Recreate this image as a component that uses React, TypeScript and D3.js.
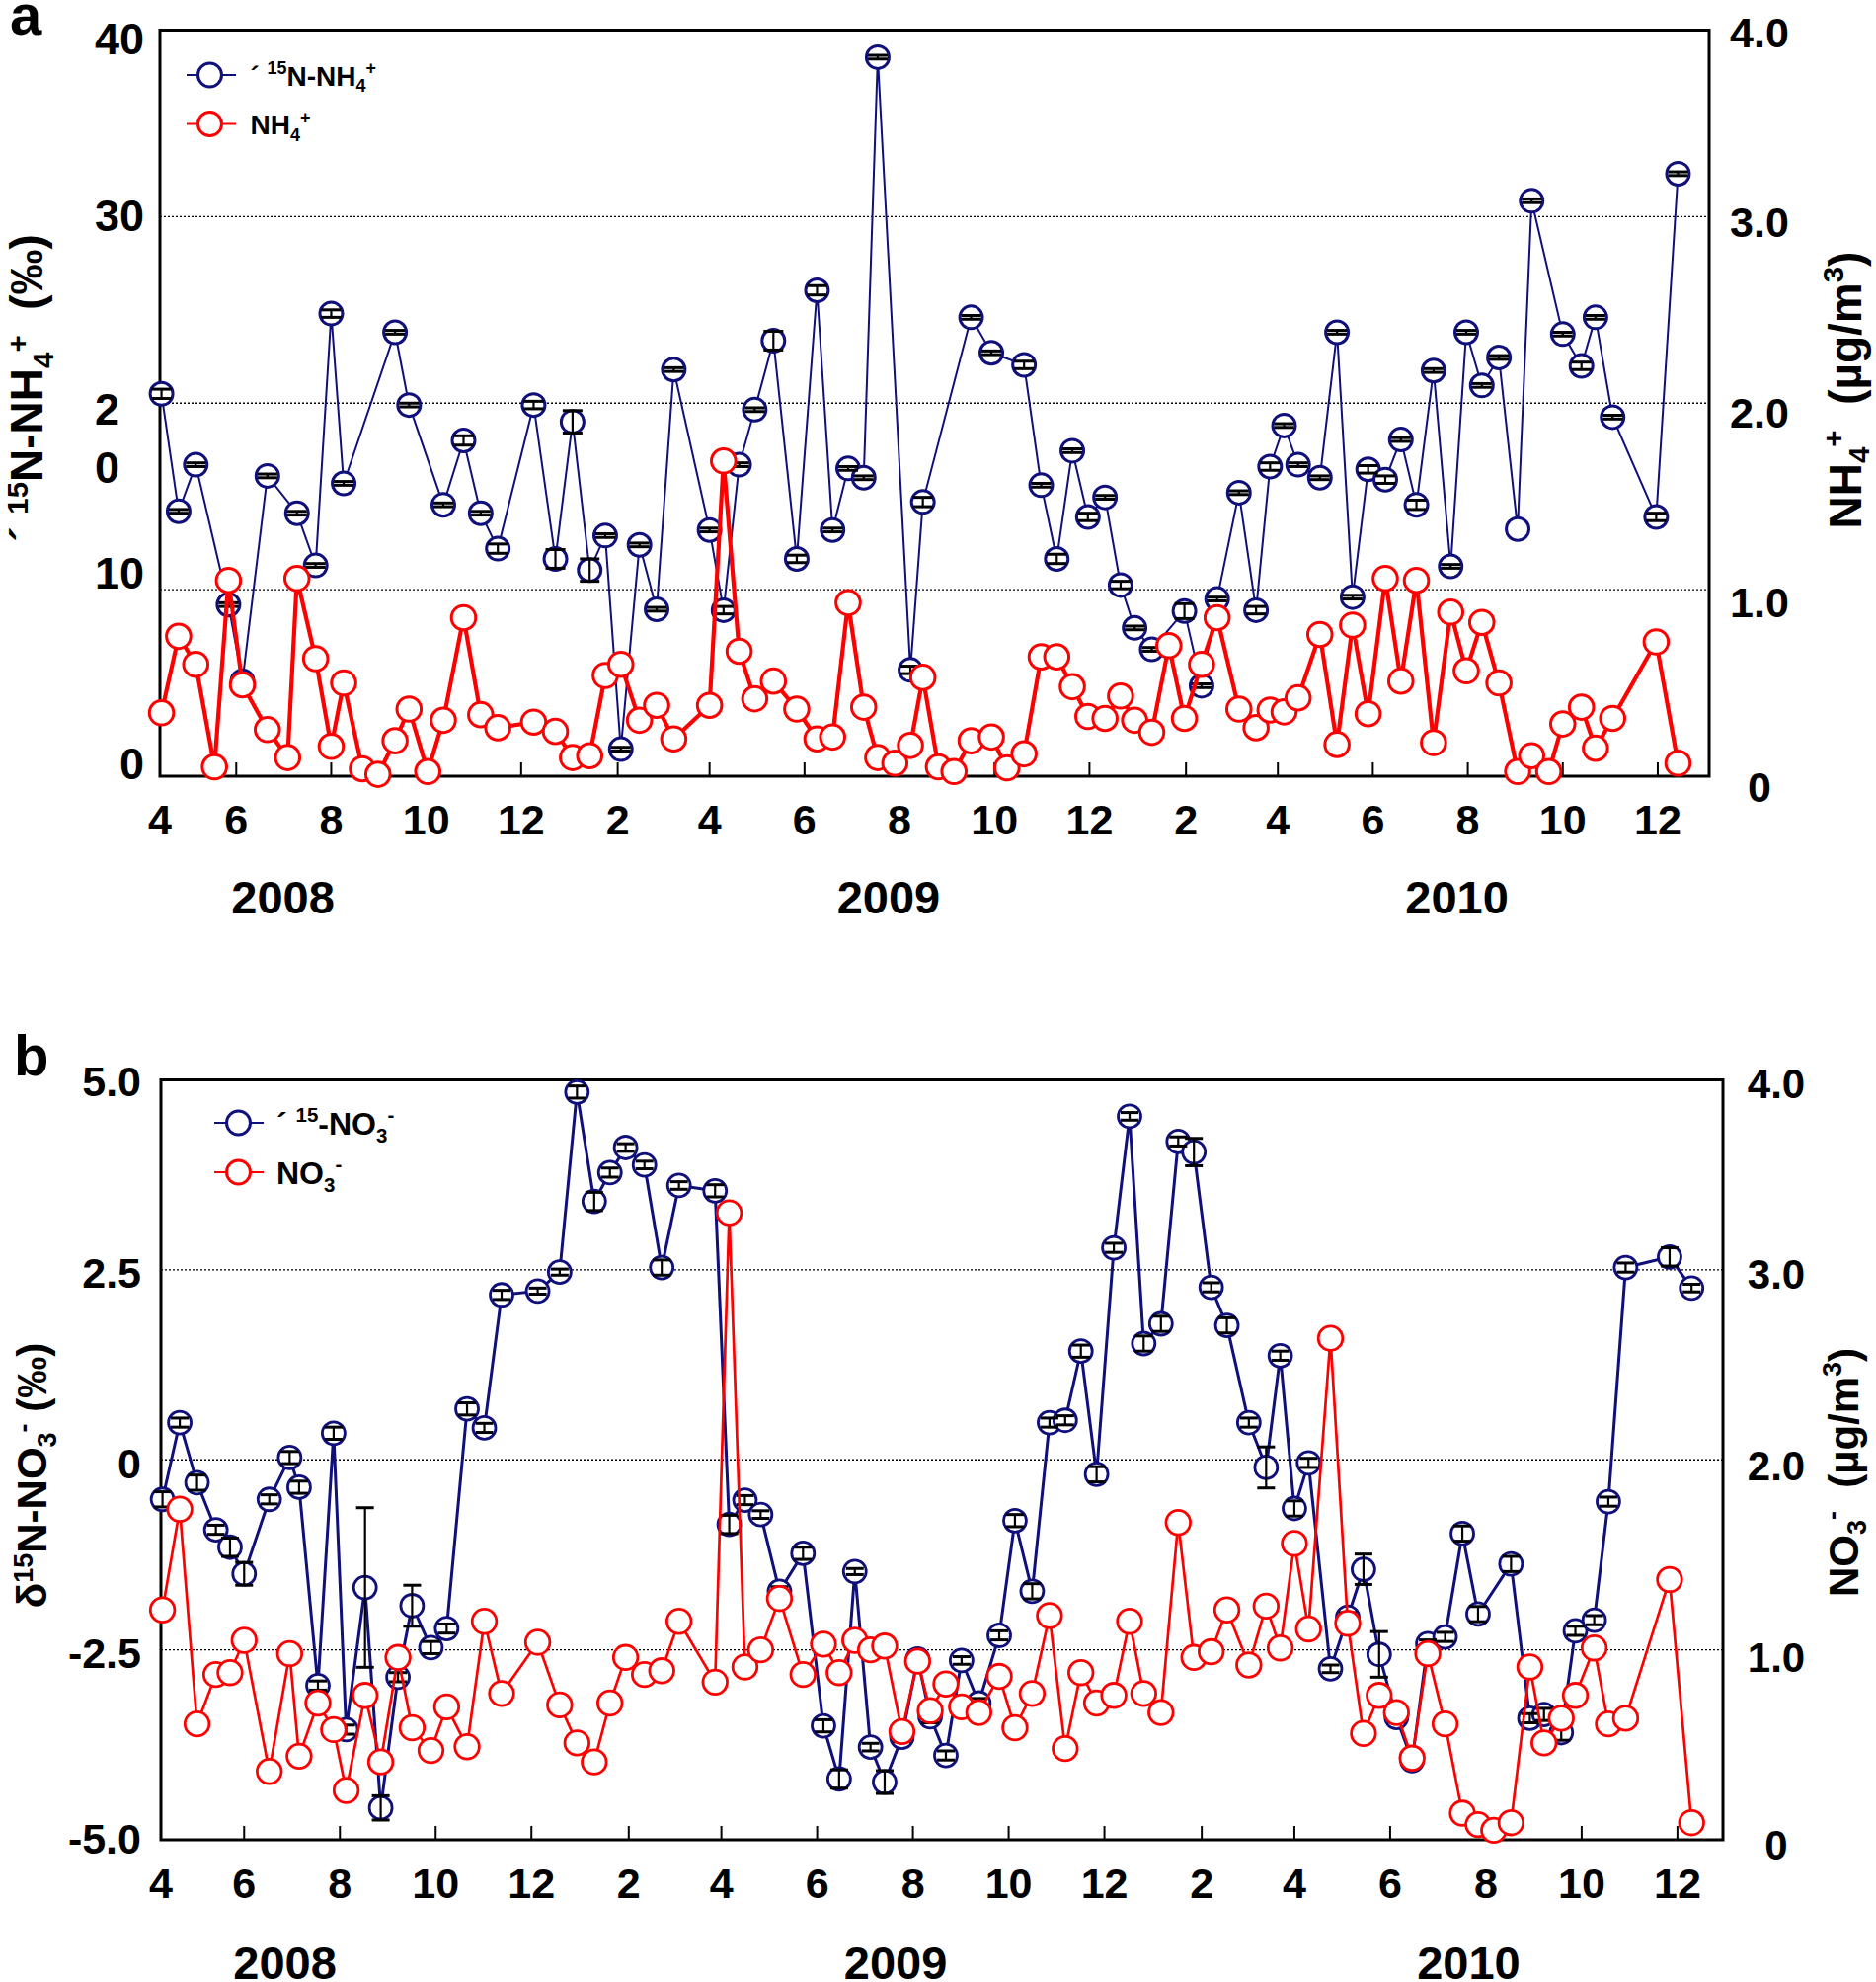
import React from "react";
import * as d3 from "d3";

// ---------------- DATA ----------------
// Sampling dates, shared by both panels
const sampleDates = [
  "2008-04-14","2008-04-25","2008-05-06","2008-05-18","2008-05-27","2008-06-05","2008-06-21","2008-07-04","2008-07-10","2008-07-22",
  "2008-08-01","2008-08-09","2008-08-21","2008-08-31","2008-09-11","2008-09-20","2008-10-02","2008-10-12","2008-10-25","2008-11-05",
  "2008-11-16","2008-12-09","2008-12-23","2009-01-03","2009-01-14","2009-01-24","2009-02-03","2009-02-15","2009-02-26","2009-03-09",
  "2009-04-01","2009-04-10","2009-04-20","2009-04-30","2009-05-12","2009-05-27","2009-06-09","2009-06-19","2009-06-29","2009-07-09",
  "2009-07-18","2009-07-29","2009-08-08","2009-08-16","2009-08-26","2009-09-05","2009-09-16","2009-09-29","2009-10-09","2009-10-20",
  "2009-10-31","2009-11-10","2009-11-20","2009-11-30","2009-12-11","2009-12-21","2009-12-30","2010-01-10","2010-01-21","2010-01-31",
  "2010-02-11","2010-02-21","2010-03-07","2010-03-18","2010-03-27","2010-04-05","2010-04-14","2010-04-28","2010-05-09","2010-05-19",
  "2010-05-29","2010-06-09","2010-06-19","2010-06-29","2010-07-10","2010-07-21","2010-07-31","2010-08-10","2010-08-21","2010-09-02",
  "2010-09-11","2010-09-22","2010-10-01","2010-10-13","2010-10-22","2010-11-02","2010-11-30","2010-12-14",
];

// Panel a: δ15N-NH4+ (‰), its error, and NH4+ (µg/m3)
const d15N_NH4: (number | null)[] = [
  20.5,14.2,16.7,null,9.2,5.1,16.1,null,14.1,11.3,
  24.8,15.7,null,null,23.8,19.9,null,14.55,18.0,14.1,
  12.2,19.9,11.65,19.0,11.05,12.9,1.45,12.4,8.95,21.8,
  13.2,8.9,16.7,19.65,23.35,11.65,26.05,13.2,16.5,16.0,
  38.55,null,5.7,14.7,null,null,24.6,22.7,null,22.05,
  15.6,11.65,17.45,13.9,14.95,10.25,7.95,6.8,null,8.85,
  4.85,9.5,15.2,8.9,16.6,18.8,16.7,16.0,23.8,9.6,
  16.45,15.9,18.05,14.55,21.75,11.25,23.8,20.95,22.45,13.25,
  30.85,null,23.7,22.0,24.6,19.25,13.9,32.3,
];
const d15N_NH4_err: (number | null)[] = [
  0.25,0.1,0.1,null,0.1,0.1,0.1,null,0.1,0.1,
  0.2,0.1,null,null,0.1,0.1,null,0.1,0.25,0.1,
  0.25,0.2,0.5,0.6,0.6,0.1,0.1,0.1,0.1,0.1,
  0.1,0.2,0.1,0.1,0.5,0.2,0.25,0.1,0.1,0.1,
  0.1,null,0.2,0.25,null,null,0.1,0.1,null,0.2,
  0.1,0.25,0.1,0.2,0.1,0.2,0.1,0.1,null,0.4,
  0.1,0.1,0.1,0.2,0.2,0.1,0.1,0.1,0.1,0.1,
  0.2,0.2,0.1,0.25,0.1,0.1,0.1,0.1,0.1,null,
  0.1,null,0.1,0.2,0.1,0.1,0.2,0.1,
];
const NH4: (number | null)[] = [
  0.34,0.75,0.60,0.05,1.05,0.49,0.25,0.10,1.06,0.63,
  0.16,0.50,0.04,0.01,0.19,0.36,0.025,0.30,0.85,0.33,
  0.26,0.29,0.24,0.10,0.11,0.54,0.60,0.30,0.38,0.20,
  0.38,1.69,0.67,0.415,0.51,0.36,0.20,0.21,0.93,0.37,
  0.10,0.07,0.165,0.53,0.05,0.025,0.19,0.21,0.045,0.12,
  0.64,0.64,0.48,0.32,0.31,0.43,0.30,0.235,0.70,0.31,
  0.60,0.85,0.36,0.26,0.355,0.345,0.42,0.76,0.17,0.81,
  0.335,1.06,0.51,1.05,0.18,0.88,0.565,0.825,0.50,0.025,
  0.11,0.025,0.28,0.37,0.15,0.31,0.72,0.07,
];

// Panel b: δ15N-NO3- (‰), its error, and NO3- (µg/m3)
const d15N_NO3: (number | null)[] = [
  -0.52,0.49,-0.30,-0.92,-1.15,-1.50,-0.52,0.03,-0.36,-2.97,
  0.35,-3.55,-1.68,-4.58,-2.86,-1.92,-2.47,-2.22,0.67,0.42,
  2.17,2.22,2.47,4.84,3.40,3.78,4.11,3.88,2.53,3.61,
  3.54,-0.85,-0.53,-0.72,-1.73,-1.23,-3.50,-4.20,-1.47,-3.78,
  -4.24,-3.65,-2.62,-3.38,-3.89,-2.64,-3.20,-2.31,-0.80,-1.73,
  0.49,0.52,1.43,-0.19,2.79,4.52,1.53,1.79,4.19,4.05,
  2.27,1.77,0.49,-0.10,1.37,-0.64,-0.04,-2.75,-2.07,-1.44,
  -2.56,-3.39,-3.96,-2.42,-2.33,-0.97,-2.03,null,-1.37,-3.40,
  -3.35,-3.59,-2.25,-2.11,-0.55,2.53,2.67,2.26,
];
const d15N_NO3_err: (number | null)[] = [
  0.1,0.06,0.1,0.06,0.12,0.15,0.06,0.08,0.08,0.06,
  0.08,0.06,1.05,0.16,0.06,0.27,0.08,0.06,0.08,0.06,
  0.06,0.04,0.04,0.08,0.12,0.06,0.05,0.05,0.1,0.05,
  0.08,0.12,0.06,0.05,0.06,0.08,0.08,0.12,0.04,0.05,
  0.15,0.06,0.05,0.08,0.06,0.05,0.06,0.06,0.08,0.1,
  0.06,0.06,0.08,0.1,0.06,0.05,0.1,0.1,0.06,0.18,
  0.06,0.1,0.06,0.27,0.06,0.1,0.06,0.05,0.06,0.2,
  0.3,0.06,0.05,0.05,0.06,0.1,0.1,null,0.1,0.06,
  0.08,0.1,0.06,0.06,0.06,0.06,0.12,0.05,
];
const NO3: (number | null)[] = [
  1.21,1.74,0.61,0.87,0.88,1.05,0.36,0.98,0.44,0.72,
  0.58,0.26,0.76,0.41,0.96,0.59,0.47,0.70,0.49,1.15,
  0.77,1.04,0.71,0.51,0.41,0.72,0.96,0.87,0.89,1.15,
  0.83,3.30,0.91,1.00,1.27,0.87,1.03,0.88,1.05,1.00,
  1.02,0.57,0.94,0.68,0.82,0.70,0.67,0.86,0.59,0.77,
  1.18,0.48,0.88,0.72,0.76,1.15,0.77,0.67,1.67,0.96,
  0.99,1.21,0.92,1.23,1.01,1.56,1.11,2.64,1.14,0.56,
  0.76,0.67,0.43,0.98,0.61,0.14,0.08,0.05,0.09,0.91,
  0.51,0.64,0.76,1.01,0.61,0.64,1.37,0.09,
];

// Axis domain and labels
const xDomain = ["2008-04-13", "2011-01-03"];
const yearLabels = ["2008", "2009", "2010"];
const yearLabelDates = ["2008-07-01", "2009-07-25", "2010-07-25"];

const leftTicksA = [0, 10, 20, 30, 40];
const leftTickTextA = [["0"], ["10"], ["2", "0"], ["30"], ["40"]];
const rightTicksA = [0, 1, 2, 3, 4];
const rightTickTextA = ["0", "1.0", "2.0", "3.0", "4.0"];
const gridA = [10, 20, 30];

const leftTicksB = [-5, -2.5, 0, 2.5, 5];
const leftTickTextB = [["-5.0"], ["-2.5"], ["0"], ["2.5"], ["5.0"]];
const rightTicksB = [0, 1, 2, 3, 4];
const rightTickTextB = ["0", "1.0", "2.0", "3.0", "4.0"];
const gridB = [-2.5, 0, 2.5];

// ---------------- STYLE / LAYOUT ----------------
const FONT = "'Liberation Sans', Arial, Helvetica, sans-serif";
const BLUE = "#10107c";
const RED = "#ff0000";
const parse = d3.timeParse("%Y-%m-%d");

type Seg = { t: string; s?: "sup" | "sub" };

function Rich({ segs, fs, sup = 0.4, sub = 0.24 }: { segs: Seg[]; fs: number; sup?: number; sub?: number }) {
  let cur = 0;
  return (
    <>
      {segs.map((sg, i) => {
        const target = sg.s === "sup" ? -sup * fs : sg.s === "sub" ? sub * fs : 0;
        const dy = target - cur;
        cur = target;
        return (
          <tspan key={i} dy={dy} fontSize={sg.s ? fs * 0.64 : fs}>
            {sg.t}
          </tspan>
        );
      })}
    </>
  );
}

const panelA = {
  letter: "a", letterX: 10, letterY: 35, letterFs: 58,
  left: 162, right: 1731, top: 30.5, bottom: 786,
  yLeft: [0, 40], yRight: [0, 4],
  tickShiftDays: 0,
  leftTicks: leftTicksA, leftText: leftTickTextA,
  leftShift: [-13, -17, 6, -2, 8.5], leftX: 146, leftFs: 45, leftLineGap: 59,
  rightTicks: rightTicksA, rightText: rightTickTextA,
  rightShift: [11, 12, 9, 5, 2.5], rightX: 1782, rightFs: 43,
  grid: gridA,
  xLabelY: 845, yearY: 925,
  isoW: 2, concW: 4.2, isoR: 11.5, concR: 12.3, circleW: 3, capW: 20,
  legend: { x1: 189, x2: 239, cx: 212.5, y1: 76, y2: 125.5, tx: 253.5, fs: 28 },
  isoLegend: [{ t: "´ " }, { t: "15", s: "sup" }, { t: "N-NH" }, { t: "4", s: "sub" }, { t: "+", s: "sup" }] as Seg[],
  concLegend: [{ t: "NH" }, { t: "4", s: "sub" }, { t: "+", s: "sup" }] as Seg[],
  leftTitle: [{ t: "´ " }, { t: "15", s: "sup" }, { t: "N-NH" }, { t: "4", s: "sub" }, { t: "+", s: "sup" }, { t: "\u00a0\u00a0(‰)" }] as Seg[],
  leftTitleX: 43, leftTitleY: 393, leftTitleFs: 46,
  rightTitle: [{ t: "NH" }, { t: "4", s: "sub" }, { t: "+", s: "sup" }, { t: "\u00a0\u00a0(µg/m" }, { t: "3", s: "sup" }, { t: ")" }] as Seg[],
  rightTitleX: 1885, rightTitleY: 395, rightTitleFs: 46,
};

const panelB = {
  letter: "b", letterX: 14, letterY: 1089, letterFs: 58,
  left: 163, right: 1745, top: 1093.5, bottom: 1863,
  yLeft: [-5, 5], yRight: [0, 4],
  tickShiftDays: 4,
  leftTicks: leftTicksB, leftText: leftTickTextB,
  leftShift: [-1, 3, 3, 3, 1], leftX: 143, leftFs: 43, leftLineGap: 59,
  rightTicks: rightTicksB, rightText: rightTickTextB,
  rightShift: [5, 7, 6, 4, 3.5], rightX: 1799, rightFs: 42,
  grid: gridB,
  xLabelY: 1922, yearY: 2004,
  isoW: 3, concW: 2.7, isoR: 11.5, concR: 12.3, circleW: 2.8, capW: 18,
  legend: { x1: 217, x2: 267, cx: 241.5, y1: 1137, y2: 1187, tx: 280, fs: 32 },
  isoLegend: [{ t: "´ " }, { t: "15", s: "sup" }, { t: "-NO" }, { t: "3", s: "sub" }, { t: "-", s: "sup" }] as Seg[],
  concLegend: [{ t: "NO" }, { t: "3", s: "sub" }, { t: "-", s: "sup" }] as Seg[],
  leftTitle: [{ t: "δ" }, { t: "15", s: "sup" }, { t: "N-NO" }, { t: "3", s: "sub" }, { t: "-", s: "sup" }, { t: "\u00a0(‰)" }] as Seg[],
  leftTitleX: 47, leftTitleY: 1494, leftTitleFs: 42,
  rightTitle: [{ t: "NO" }, { t: "3", s: "sub" }, { t: "-", s: "sup" }, { t: "\u00a0\u00a0(µg/m" }, { t: "3", s: "sup" }, { t: ")" }] as Seg[],
  rightTitleX: 1882, rightTitleY: 1491, rightTitleFs: 42,
};

type PanelCfg = typeof panelA;

function Panel({
  cfg, iso, isoErr, conc,
}: {
  cfg: PanelCfg; iso: (number | null)[]; isoErr: (number | null)[]; conc: (number | null)[];
}) {
  const x = d3.scaleTime().domain(xDomain.map((s) => parse(s) as Date)).range([cfg.left, cfg.right]);
  const yL = d3.scaleLinear().domain(cfg.yLeft).range([cfg.bottom, cfg.top]);
  const yR = d3.scaleLinear().domain(cfg.yRight).range([cfg.bottom, cfg.top]);
  const dates = sampleDates.map((s) => parse(s) as Date);

  const isoPts = dates
    .map((d, i) => ({ d, v: iso[i], e: isoErr[i] }))
    .filter((p) => p.v !== null) as { d: Date; v: number; e: number | null }[];
  const concPts = dates
    .map((d, i) => ({ d, v: conc[i] }))
    .filter((p) => p.v !== null) as { d: Date; v: number }[];

  const isoLine = d3.line<{ d: Date; v: number }>().x((p) => x(p.d)).y((p) => yL(p.v));
  const concLine = d3.line<{ d: Date; v: number }>().x((p) => x(p.d)).y((p) => yR(p.v));

  const d0 = x.domain()[0];
  const months = d3
    .timeMonth.range(new Date(2008, 3, 1), x.domain()[1])
    .filter((m) => (m.getMonth() + 1) % 2 === 0);
  const tx = (m: Date) => x(d3.timeDay.offset(m, cfg.tickShiftDays));

  const lg = cfg.legend;
  const half = cfg.capW / 2;

  return (
    <g fontFamily={FONT} fontWeight="bold">
      {/* panel letter */}
      <text x={cfg.letterX} y={cfg.letterY} fontSize={cfg.letterFs}>{cfg.letter}</text>

      {/* gridlines */}
      {cfg.grid.map((g) => (
        <line key={g} x1={cfg.left} x2={cfg.right} y1={yL(g)} y2={yL(g)}
          stroke="#000" strokeWidth={1.4} strokeDasharray="2 2" />
      ))}

      {/* frame */}
      <rect x={cfg.left} y={cfg.top} width={cfg.right - cfg.left} height={cfg.bottom - cfg.top}
        fill="none" stroke="#000" strokeWidth={3} />

      {/* bottom ticks */}
      {months.filter((m) => d3.timeDay.offset(m, cfg.tickShiftDays) > d0).map((m) => (
        <line key={+m} x1={tx(m)} x2={tx(m)} y1={cfg.bottom} y2={cfg.bottom - 14} stroke="#000" strokeWidth={2} />
      ))}
      {months.map((m) => (
        <text key={"l" + +m} x={Math.max(tx(m), cfg.left)} y={cfg.xLabelY} fontSize={43} textAnchor="middle">
          {m.getMonth() + 1}
        </text>
      ))}
      {yearLabels.map((yl, i) => (
        <text key={yl} x={x(parse(yearLabelDates[i]) as Date)} y={cfg.yearY} fontSize={47} textAnchor="middle">
          {yl}
        </text>
      ))}

      {/* left tick labels */}
      {cfg.leftTicks.map((v, i) =>
        cfg.leftText[i].map((s, j) => (
          <text key={v + "-" + j}
            x={cfg.leftText[i].length > 1 ? cfg.leftX - 25 : cfg.leftX}
            y={yL(v) + cfg.leftShift[i] + j * cfg.leftLineGap + 0.36 * cfg.leftFs}
            fontSize={cfg.leftFs} textAnchor="end">{s}</text>
        ))
      )}
      {/* right tick labels */}
      {cfg.rightTicks.map((v, i) => (
        <text key={"r" + v} x={cfg.rightX} y={yR(v) + cfg.rightShift[i] + 0.36 * cfg.rightFs}
          fontSize={cfg.rightFs} textAnchor="middle">{cfg.rightText[i]}</text>
      ))}

      {/* axis titles */}
      <text transform={`translate(${cfg.leftTitleX},${cfg.leftTitleY}) rotate(-90)`} textAnchor="middle"
        fontSize={cfg.leftTitleFs}>
        <Rich segs={cfg.leftTitle} fs={cfg.leftTitleFs} sup={0.33} />
      </text>
      <text transform={`translate(${cfg.rightTitleX},${cfg.rightTitleY}) rotate(-90)`} textAnchor="middle"
        fontSize={cfg.rightTitleFs}>
        <Rich segs={cfg.rightTitle} fs={cfg.rightTitleFs} sub={0.18} />
      </text>

      {/* isotope series */}
      <path d={isoLine(isoPts) || ""} fill="none" stroke={BLUE} strokeWidth={cfg.isoW} />
      {isoPts.map((p, i) => (
        <circle key={"ic" + i} cx={x(p.d)} cy={yL(p.v)} r={cfg.isoR} fill="#fff" stroke={BLUE} strokeWidth={cfg.circleW} />
      ))}
      {isoPts.filter((p) => p.e !== null).map((p, i) => {
        const cx = x(p.d);
        const yt = yL(p.v + (p.e as number));
        const yb = yL(p.v - (p.e as number));
        return (
          <g key={"eb" + i} stroke="#000">
            <line x1={cx} x2={cx} y1={yt} y2={yb} strokeWidth={2.2} />
            <line x1={cx - half} x2={cx + half} y1={yt} y2={yt} strokeWidth={3} />
            <line x1={cx - half} x2={cx + half} y1={yb} y2={yb} strokeWidth={3} />
          </g>
        );
      })}

      {/* concentration series */}
      <path d={concLine(concPts) || ""} fill="none" stroke={RED} strokeWidth={cfg.concW} strokeLinejoin="round" />
      {concPts.map((p, i) => (
        <circle key={"cc" + i} cx={x(p.d)} cy={yR(p.v)} r={cfg.concR} fill="#fff" stroke={RED} strokeWidth={cfg.circleW} />
      ))}

      {/* legend */}
      <line x1={lg.x1} x2={lg.x2} y1={lg.y1} y2={lg.y1} stroke={BLUE} strokeWidth={1.8} />
      <circle cx={lg.cx} cy={lg.y1} r={12} fill="#fff" stroke={BLUE} strokeWidth={3} />
      <text x={lg.tx} y={lg.y1 + 0.38 * lg.fs} fontSize={lg.fs}>
        <Rich segs={cfg.isoLegend} fs={lg.fs} />
      </text>
      <line x1={lg.x1} x2={lg.x2} y1={lg.y2} y2={lg.y2} stroke={RED} strokeWidth={1.8} />
      <circle cx={lg.cx} cy={lg.y2} r={12} fill="#fff" stroke={RED} strokeWidth={3} />
      <text x={lg.tx} y={lg.y2 + 0.38 * lg.fs} fontSize={lg.fs}>
        <Rich segs={cfg.concLegend} fs={lg.fs} />
      </text>
    </g>
  );
}

export default function App() {
  return (
    <div style={{ position: "absolute", left: 0, top: 0, width: 1900, height: 2007, background: "#fff" }}>
      <svg width={1900} height={2007} viewBox="0 0 1900 2007" style={{ display: "block" }}>
        <rect x={0} y={0} width={1900} height={2007} fill="#fff" />
        <Panel cfg={panelA} iso={d15N_NH4} isoErr={d15N_NH4_err} conc={NH4} />
        <Panel cfg={panelB as unknown as PanelCfg} iso={d15N_NO3} isoErr={d15N_NO3_err} conc={NO3} />
      </svg>
    </div>
  );
}
